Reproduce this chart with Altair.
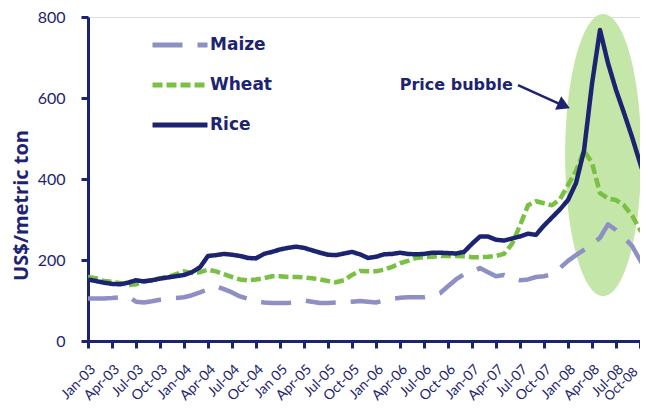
import altair as alt
import pandas as pd

# ---- data ----
tick_labels = ["Jan-03", "Apr-03", "Jul-03", "Oct-03", "Jan-04", "Apr-04", "Jul-04", "Oct-04",
               "Jan 05", "Apr-05", "Jul-05", "Oct-05", "Jan-06", "Apr-06", "Jul-06", "Oct-06",
               "Jan-07", "Apr-07", "Jul-07", "Oct-07", "Jan-08", "Apr-08", "Jul-08", "Oct-08"]

series_names = ["Maize", "Wheat", "Rice"]

rice = [152, 148, 144, 141, 140, 144, 150, 147, 150, 154, 157, 160, 163, 170, 182, 210, 212, 215,
        213, 210, 205, 204, 215, 220, 226, 230, 233, 230, 224, 218, 213, 212, 216, 220, 214, 205,
        208, 214, 215, 218, 215, 214, 215, 218, 218, 217, 216, 220, 240, 258, 258, 250, 248, 253,
        258, 265, 262, 285, 305, 325, 348, 390, 470, 635, 768, 686, 620, 563, 504, 440, 380]

wheat = [158, 155, 148, 146, 143, 138, 140, 148, 150, 155, 158, 165, 172, 168, 170, 176, 172, 165,
         158, 152, 150, 152, 155, 160, 160, 158, 158, 157, 155, 152, 148, 145, 150, 163, 173, 172,
         172, 176, 183, 192, 198, 205, 207, 208, 210, 210, 210, 209, 207, 207, 208, 210, 215, 240,
         285, 335, 345, 340, 335, 350, 385, 420, 470, 440, 365, 352, 348, 335, 310, 275, 250]

maize = [105, 105, 105, 106, 108, 110, 97, 95, 98, 102, 105, 106, 108, 113, 120, 128, 135, 128,
         120, 110, 104, 98, 95, 94, 94, 94, 96, 100, 97, 94, 94, 95, 95, 97, 99, 97,
         95, 100, 104, 107, 108, 108, 108, 112, 118, 135, 152, 165, 170, 180, 170, 160, 163, 155,
         150, 152, 158, 160, 165, 180, 198, 212, 225, 238, 255, 288, 274, 255, 235, 200, 165]

# annotation (data coordinates: month index, US$/ton)
bubble_x, bubble_y = [64.4], [459]
arrow_x, arrow_y, arrow_x2, arrow_y2 = [53.75], [632], [59.0], [585]
head_x, head_y = [59.5], [581]
note_x, note_y, note_text = [53.1], [632], ["Price bubble"]

NAVY = "#1c2472"
GREEN = "#7ac143"
LAV = "#8e8fc4"
BUBBLE = "#c5e6a9"

rows = []
for name, vals in zip(series_names, [maize, wheat, rice]):
    for i, v in enumerate(vals):
        rows.append({"series": name, "m": i, "v": v})
df = pd.DataFrame(rows)

x_scale = alt.Scale(domain=[0, 69], nice=False, zero=False)
y_scale = alt.Scale(domain=[0, 800], nice=False)

label_arr = "[" + ",".join("'" + s + "'" for s in tick_labels) + "]"

x_axis = alt.Axis(values=list(range(0, 70, 3)), labelExpr=label_arr + "[round(datum.value/3)]",
                  title=None, labelAngle=-45, labelAlign="right", labelBaseline="top",
                  labelFont="Lato", labelColor=NAVY,
                  labelFontSize={"condition": {"test": "datum.value >= 69", "value": 13}, "value": 14},
                  labelPadding={"condition": {"test": "datum.value >= 69", "value": 17}, "value": 14},
                  labelOffset={"condition": {"test": "datum.value >= 69", "value": -9}, "value": 0},
                  domainColor=NAVY, domainWidth=3, tickColor=NAVY, tickWidth=3, tickSize=7,
                  grid=False, labelOverlap=False, labelBound=False, labelFlush=False)
y_axis = alt.Axis(values=[0, 200, 400, 600, 800], title="US$/metric ton",
                  titleFont="Open Sans", titleFontWeight="bold", titleFontSize=20, titleColor=NAVY,
                  titleX=-67, titleY=188, titleAngle=-90, titleAlign="center", titleBaseline="middle",
                  labelFont="Lato", labelFontSize=16, labelColor=NAVY, labelPadding=16,
                  domainColor=NAVY, domainWidth=3, tickColor=NAVY, tickWidth=3, tickSize=7,
                  grid=False, labelOverlap=False)

X = alt.X("m:Q", scale=x_scale, axis=x_axis)
Y = alt.Y("v:Q", scale=y_scale, axis=y_axis)

leg = alt.Legend(title=None, orient="none", legendX=62, legendY=-2,
                 symbolType="stroke", symbolSize=3025, symbolStrokeWidth=5,
                 labelFont="DejaVu Sans", labelFontWeight="bold",
                 labelFontSize=17, labelColor=NAVY, labelOffset=0, rowPadding=-1)

bubble = alt.Chart(pd.DataFrame({"m": bubble_x, "v": bubble_y})).mark_point(
    shape="M-0.27,0A0.27,1,0,1,0,0.27,0A0.27,1,0,1,0,-0.27,0Z",
    size=79524, filled=True, color=BUBBLE, opacity=1, strokeWidth=0
).encode(x=X, y=Y)

lines = alt.Chart(df).mark_line(strokeWidth=4.5, strokeJoin="round", clip=True).encode(
    x=X, y=Y,
    color=alt.Color("series:N", scale=alt.Scale(domain=series_names, range=[LAV, GREEN, NAVY]),
                    legend=leg),
    strokeDash=alt.StrokeDash("series:N", scale=alt.Scale(domain=series_names,
                                                          range=[[30, 15], [10, 4], [1, 0]]),
                              legend=leg),
    order=alt.Order("m:Q"),
)

arrow = alt.Chart(pd.DataFrame({"m": arrow_x, "v": arrow_y, "m2": arrow_x2, "v2": arrow_y2})).mark_rule(
    color=NAVY, strokeWidth=2.5).encode(x=X, y=Y, x2="m2:Q", y2="v2:Q")

head = alt.Chart(pd.DataFrame({"m": head_x, "v": head_y})).mark_point(
    shape="triangle-right", size=220, filled=True, color=NAVY, opacity=1, angle=24, strokeWidth=0
).encode(x=X, y=Y)

note = alt.Chart(pd.DataFrame({"m": note_x, "v": note_y, "t": note_text})).mark_text(
    align="right", baseline="middle", font="DejaVu Sans", fontWeight="bold", fontSize=16, color=NAVY
).encode(x=X, y=Y, text="t:N")

chart = alt.layer(bubble, lines, arrow, head, note).properties(
    width=552, height=324,
    autosize=alt.AutoSizeParams(type="none"),
    padding={"left": 80, "top": 9, "right": 0, "bottom": 66},
).configure_view(stroke=None).configure(background="white")

chart.save("out.html", embed_options={"renderer": "svg", "actions": False})
